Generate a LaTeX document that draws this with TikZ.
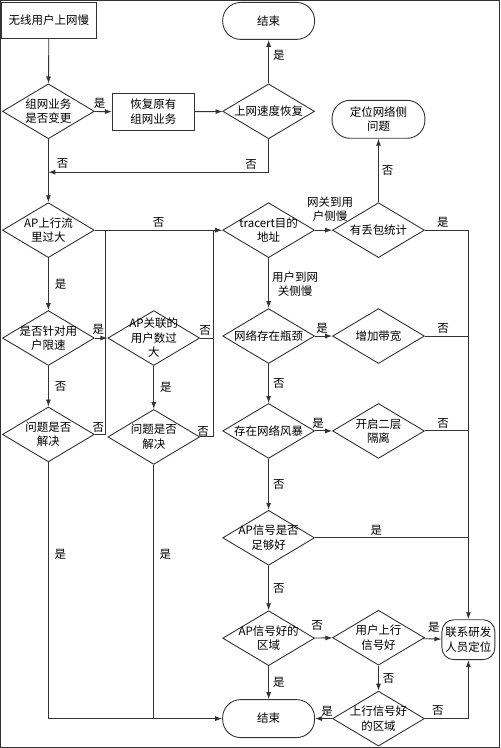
\documentclass[tikz,border=0pt]{standalone}
\usepackage{fontspec}
\setmainfont{Noto Sans CJK SC}
\usetikzlibrary{shapes.geometric, arrows.meta}
\definecolor{lineColor}{HTML}{333333}

\begin{document}
\begin{tikzpicture}[x=1pt, y=-1pt,
    font=\fontsize{11.5}{14.5}\selectfont,
    every path/.style={draw=lineColor, line width=0.9pt},
    arr/.style={-{Latex[length=7pt,width=5pt]}},
    dec/.style={diamond, draw, aspect=1.67, inner sep=0pt, minimum width=92pt, minimum height=55pt},
    dtxt/.style={align=center, inner sep=0pt},
    proc/.style={rectangle, draw, align=center, inner sep=0pt},
    term/.style={rectangle, draw, rounded corners=18pt, align=center, minimum width=92pt, minimum height=37pt, inner sep=0pt},
    yn/.style={inner sep=0pt}]
    \useasboundingbox (0,0) rectangle (500,748);

    \node[proc, minimum width=95pt, minimum height=36pt] (start) at (48.5,20) {无线用户上网慢};
    \node[term] (end1) at (268.5,20.5) {结束};
    \node[dec, label={[dtxt]center:组网业务\\是否变更}] (d1) at (48,111) {};
    \node[proc, minimum width=82pt, minimum height=37pt] (restore) at (153,111.5) {恢复原有\\组网业务};
    \node[dec, label={[dtxt]center:上网速度恢复}] (d2) at (268.5,111) {};
    \node[term, minimum width=93pt, minimum height=38pt] (locate) at (378.5,119) {定位网络侧\\问题};

    \node[dec, label={[dtxt]center:AP上行流\\里过大}] (d3) at (48,230) {};
    \node[dec, label={[dtxt]center:是否针对用\\户限速}] (d4) at (48,338) {};
    \node[dec, label={[dtxt]center:问题是否\\解决}] (d5) at (48,434.5) {};
    \node[dec, label={[dtxt]center:AP关联的\\用户数过\\大}] (apusr) at (153.5,338) {};
    \node[dec, label={[dtxt]center:问题是否\\解决}] (d6) at (153.5,437) {};

    \node[dec, label={[dtxt]center:tracert目的\\地址}] (trace) at (268.5,230) {};
    \node[dec, label={[dtxt]center:有丢包统计}] (loss) at (378.5,230) {};
    \node[dec, label={[dtxt]center:网络存在瓶颈}] (bneck) at (268.5,336) {};
    \node[dec, label={[dtxt]center:增加带宽}] (bwidth) at (378.5,336) {};
    \node[dec, label={[dtxt]center:存在网络风暴}] (storm) at (268.5,431) {};
    \node[dec, label={[dtxt]center:开启二层\\隔离}] (isol) at (378.5,431) {};
    \node[dec, label={[dtxt]center:AP信号是否\\足够好}] (apsig) at (268.5,538) {};
    \node[dec, label={[dtxt]center:AP信号好的\\区域}] (aparea) at (268.5,638.5) {};
    \node[dec, label={[dtxt]center:用户上行\\信号好}] (upsig) at (378.5,638) {};
    \node[dec, label={[dtxt]center:上行信号好\\的区域}] (uparea) at (378.5,719) {};
    \node[term, minimum width=53pt, minimum height=40pt, rounded corners=12pt] (contact) at (468.5,640) {联系研发\\人员定位};
    \node[term, minimum height=38pt] (end2) at (268.5,719) {结束};

    \coordinate (back) at (48,172);
    \coordinate (jl) at (105,230);
    \coordinate (jm) at (213,230);

    \draw[arr] (start) -- (d1);
    \draw[arr] (d1) -- (restore) node[yn, pos=0.3, above=3pt] {是};
    \draw[arr] (restore) -- (d2);
    \draw[arr] (d2) -- (end1) node[yn, pos=0.64, right=4pt] {是};
    \draw[arr] (d2.south) |- (back);
    \node[yn] (n1) at (251,164) {否};
    \draw[arr] (d1) -- (d3) node[yn, pos=0.39, right=8pt] {否};

    \draw[arr] (d3) -- (trace) node[yn, pos=0.5, above=2pt] {否};
    \draw[arr] (d3) -- (d4) node[yn, midway, right=6pt] {是};
    \draw[arr] (d4) -- (apusr);
    \node[yn] (y1) at (98,329) {是};
    \draw[arr] (d4) -- (d5) node[yn, midway, right=6pt] {否};
    \draw (d5.east) -| (jl);
    \node[yn] (n2) at (98,428) {否};
    \draw (apusr.east) -- (apusr.east -| jm);
    \node[yn] (n3) at (205,330) {否};
    \draw (d6.east) -| (jm);
    \node[yn] (n4) at (203,432) {否};
    \draw[arr] (apusr) -- (d6) node[yn, midway, right=6pt] {是};
    \draw[arr] (d5.south) |- (end2.west);
    \node[yn] (y2) at (60,555) {是};
    \draw (d6.south) -- (d6.south |- end2.west);
    \node[yn] (y3) at (165,555) {是};

    \draw[arr] (trace) -- (loss);
    \node[dtxt] (t1) at (330,209) {网关到用\\户侧慢};
    \draw[arr] (loss) -- (locate) node[yn, midway, right=3pt] {否};
    \draw[arr] (loss.east) -| (contact.north);
    \node[yn] (y4) at (443,222) {是};
    \draw[arr] (trace) -- (bneck);
    \node[dtxt] (t2) at (295,284) {用户到网\\关侧慢};
    \draw[arr] (bneck) -- (bwidth);
    \node[yn] (y5) at (322,328) {是};
    \draw (bwidth.east) -- (bwidth.east -| contact.north) node[yn, pos=0.42, above=2pt] {否};
    \draw[arr] (bneck) -- (storm) node[yn, midway, right=4pt] {否};
    \draw[arr] (storm) -- (isol);
    \node[yn] (y6) at (318,423) {是};
    \draw (isol.east) -- (isol.east -| contact.north) node[yn, pos=0.42, above=2pt] {否};
    \draw[arr] (storm) -- (apsig) node[yn, midway, right=4pt] {否};
    \draw (apsig.east) -- (apsig.east -| contact.north) node[yn, pos=0.4, above=2pt] {是};
    \draw[arr] (apsig) -- (aparea) node[yn, midway, right=4pt] {否};
    \draw[arr] (aparea) -- (upsig);
    \node[yn] (n5) at (317,626) {否};
    \draw[arr] (upsig) -- (contact);
    \node[yn] (y7) at (434,628) {是};
    \draw[arr] (aparea) -- (end2) node[yn, midway, right=4pt] {是};
    \draw[arr] (upsig) -- (uparea) node[yn, midway, right=4pt] {否};
    \draw[arr] (uparea) -- (end2);
    \node[yn] (y8) at (327,712) {是};
    \draw[arr] (uparea.east) -| (contact.south);
    \node[yn] (n6) at (438,711) {否};
\end{tikzpicture}
\end{document}
